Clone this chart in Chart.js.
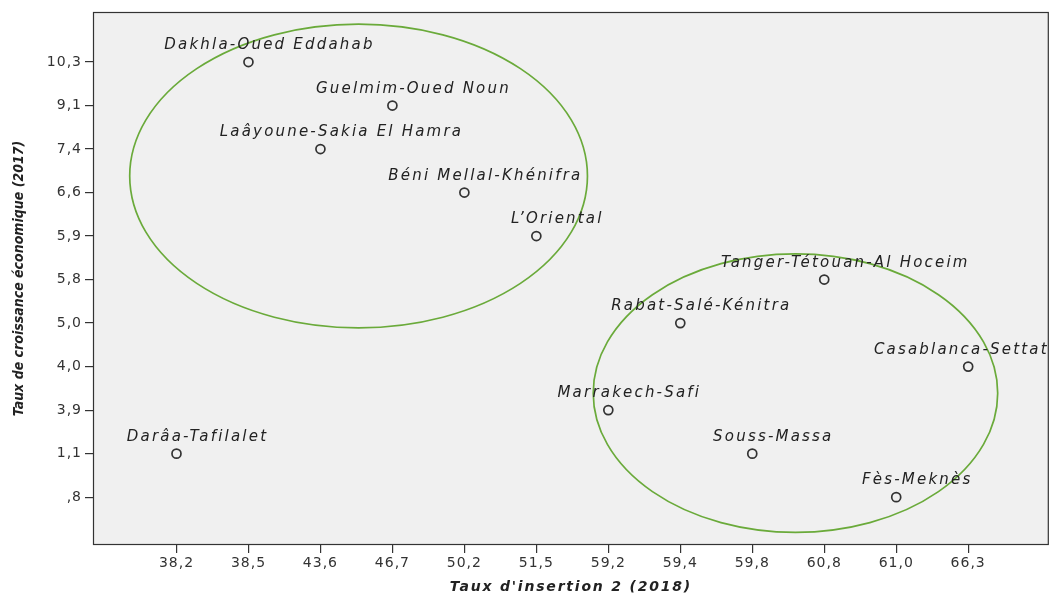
<!DOCTYPE html>
<html>
<head>
<meta charset="utf-8">
<script src="https://cdn.jsdelivr.net/npm/chart.js@4.4.1/dist/chart.umd.min.js"></script>
<style>
  html, body { margin: 0; background: #fff; }
  #wrap { width: 1055px; height: 596px; }
</style>
</head>
<body>
<div id="wrap"><canvas id="myChart"></canvas></div>
<script>
// tick categories (SPSS ordinal axes, equally spaced)
const xTicks = [38.2, 38.5, 43.6, 46.7, 50.2, 51.5, 59.2, 59.4, 59.8, 60.8, 61.0, 66.3];
const yTicks = [0.8, 1.1, 3.9, 4.0, 5.0, 5.8, 5.9, 6.6, 7.4, 9.1, 10.3];

// regions
const regions = [
  'Dakhla-Oued Eddahab', 'Guelmim-Oued Noun', 'Laâyoune-Sakia El Hamra',
  'Béni Mellal-Khénifra', 'L\u2019Oriental', 'Tanger-Tétouan-Al Hoceim',
  'Rabat-Salé-Kénitra', 'Casablanca-Settat', 'Marrakech-Safi',
  'Souss-Massa', 'Fès-Meknès', 'Darâa-Tafilalet'
];
const insertion2018 = [38.5, 46.7, 43.6, 50.2, 51.5, 60.8, 59.4, 66.3, 59.2, 59.8, 61.0, 38.2];
const growth2017    = [10.3, 9.1, 7.4, 6.6, 5.9, 5.8, 5.0, 4.0, 3.9, 1.1, 0.8, 1.1];

// the two green groupings, in axis category units
const groups = [
  { cx: 2.53, cy: 7.38, rx: 3.18, ry: 3.49 },
  { cx: 8.60, cy: 2.39, rx: 2.81, ry: 3.20 }
];

const fmt = v => v.toFixed(1).replace('.', ',').replace(/^0,/, ',');

const points = regions.map((name, i) => ({
  x: xTicks.indexOf(insertion2018[i]),
  y: yTicks.indexOf(growth2017[i]),
  name: name
}));

// SPSS text is spaced out; canvas letterSpacing per part of the axis
function spaced(scale, method, spacing) {
  if (scale['_sp_' + method]) return;
  const orig = scale[method];
  scale[method] = function (...args) {
    this.ctx.save();
    this.ctx.letterSpacing = spacing;
    orig.apply(this, args);
    this.ctx.restore();
  };
  scale['_sp_' + method] = true;
}

const plotFrame = {
  id: 'plotFrame',
  beforeDatasetsDraw(chart) {
    const { ctx, chartArea: a } = chart;
    ctx.save();
    ctx.fillStyle = '#f0f0f0';
    ctx.fillRect(a.left, a.top, a.right - a.left, a.bottom - a.top);
    ctx.strokeStyle = '#333';
    ctx.lineWidth = 1.2;
    ctx.strokeRect(a.left + 0.5, a.top + 0.5, a.right - a.left - 1, a.bottom - a.top - 1);
    ctx.restore();
  },
  afterDatasetsDraw(chart) {
    const { ctx, chartArea: a, scales: { x, y } } = chart;
    ctx.save();
    ctx.strokeStyle = '#6aaa3a';
    ctx.lineWidth = 1.7;
    groups.forEach(g => {
      const px = x.getPixelForValue(g.cx), py = y.getPixelForValue(g.cy);
      const rx = Math.abs(x.getPixelForValue(g.cx + g.rx) - px);
      const ry = Math.abs(y.getPixelForValue(g.cy + g.ry) - py);
      ctx.beginPath();
      ctx.ellipse(px, py, rx, ry, 0, 0, Math.PI * 2);
      ctx.stroke();
    });
    // point labels, kept inside the plot box
    ctx.fillStyle = '#222';
    ctx.font = 'italic 15px "DejaVu Sans"';
    ctx.letterSpacing = '2.2px';
    ctx.textAlign = 'center';
    ctx.textBaseline = 'alphabetic';
    chart.getDatasetMeta(0).data.forEach((el, i) => {
      const w = ctx.measureText(points[i].name).width;
      let lx = el.x + 21;
      if (lx + w / 2 > a.right) lx = a.right - w / 2;
      ctx.fillText(points[i].name, lx, el.y - 13);
    });
    ctx.restore();
  }
};

const ctx = document.getElementById('myChart').getContext('2d');
const myChart = new Chart(ctx, {
  type: 'scatter',
  data: {
    datasets: [{
      data: points,
      pointRadius: 4.5,
      pointHoverRadius: 4.5,
      borderWidth: 1.7,
      borderColor: '#333',
      backgroundColor: 'rgba(0,0,0,0)'
    }]
  },
  options: {
    responsive: true,
    maintainAspectRatio: false,
    animation: false,
    events: [],
    layout: { padding: { left: 0, top: 12, right: 2, bottom: 0 } },
    plugins: { legend: { display: false }, tooltip: { enabled: false } },
    scales: {
      x: {
        type: 'linear',
        min: -1.16,
        max: 12.12,
        afterBuildTicks: s => { s.ticks = xTicks.map((v, i) => ({ value: i })); },
        afterFit: s => { s.height = 51; },
        afterUpdate: s => { spaced(s, 'drawLabels', '1px'); spaced(s, 'drawTitle', '1.8px'); },
        ticks: {
          callback: v => fmt(xTicks[v]),
          color: '#333',
          font: { family: 'DejaVu Sans', size: 14 },
          padding: 2,
          maxRotation: 0,
          autoSkip: false
        },
        grid: { drawOnChartArea: false, drawTicks: true, tickLength: 8, color: '#333', lineWidth: 1.2 },
        border: { display: false },
        title: {
          display: true,
          text: "Taux d'insertion 2 (2018)",
          color: '#222',
          font: { family: 'DejaVu Sans', size: 14, style: 'italic', weight: 'bold' },
          padding: { top: 0, bottom: 0 }
        }
      },
      y: {
        type: 'linear',
        min: -1.1,
        max: 11.15,
        afterBuildTicks: s => { s.ticks = yTicks.map((v, i) => ({ value: i })); },
        afterFit: s => { s.width = 93; },
        afterUpdate: s => { spaced(s, 'drawLabels', '1px'); },
        ticks: {
          callback: v => fmt(yTicks[v]),
          color: '#333',
          font: { family: 'DejaVu Sans', size: 14 },
          padding: 3,
          autoSkip: false
        },
        grid: { drawOnChartArea: false, drawTicks: true, tickLength: 8, color: '#333', lineWidth: 1.2 },
        border: { display: false },
        title: {
          display: true,
          text: 'Taux de croissance économique (2017)',
          color: '#222',
          font: { family: 'DejaVu Sans Condensed', size: 14, style: 'italic', weight: 'bold' },
          padding: { top: 11, bottom: 0 }
        }
      }
    }
  },
  plugins: [plotFrame]
});
</script>
</body>
</html>
